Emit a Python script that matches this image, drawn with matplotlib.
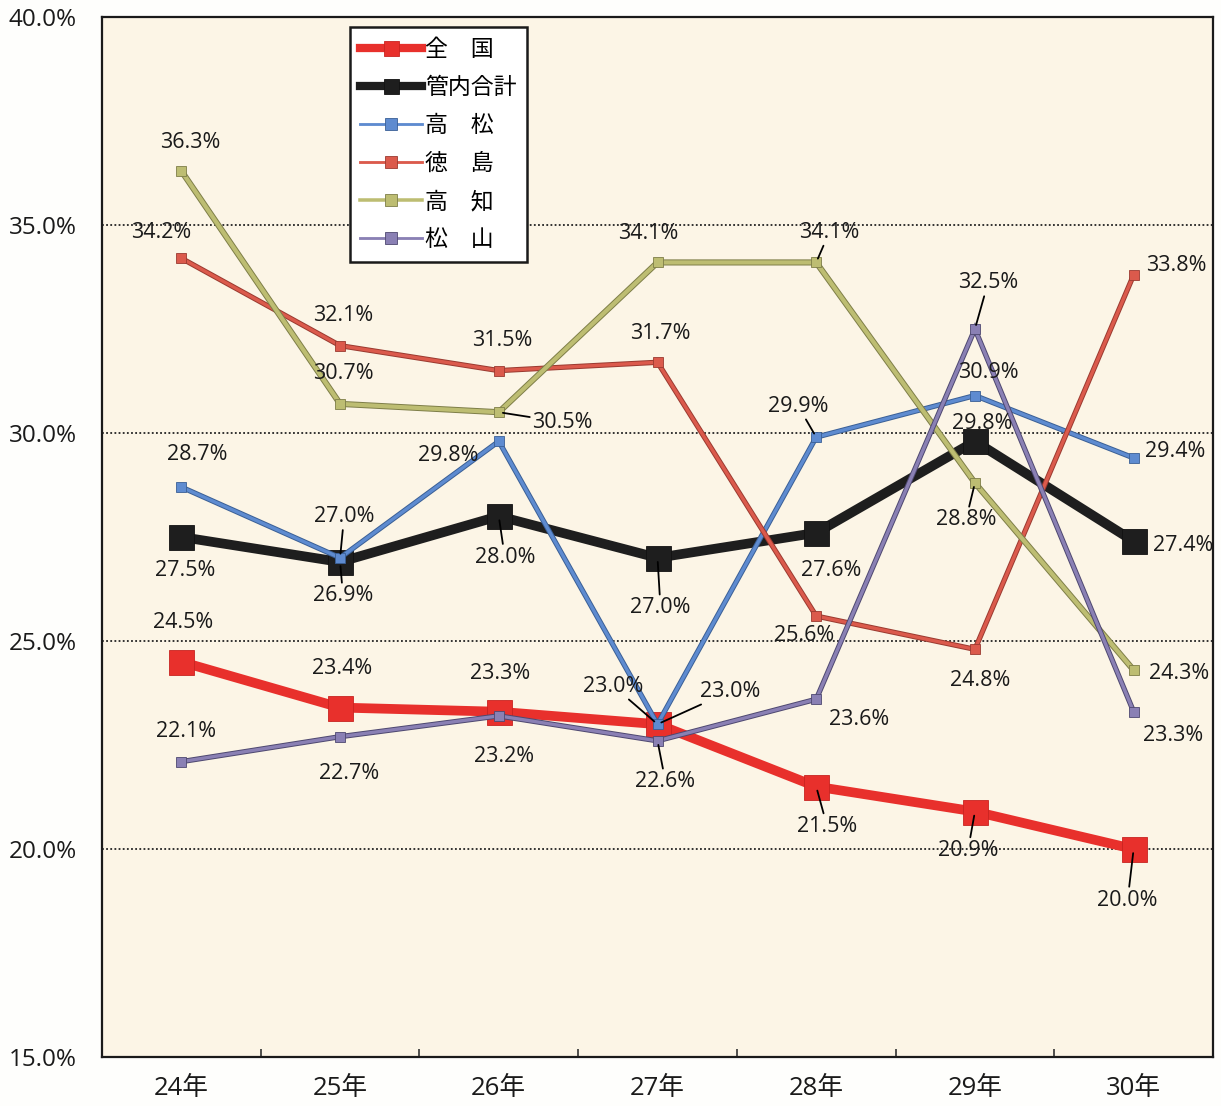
import matplotlib
matplotlib.use("Agg")
import matplotlib.pyplot as plt
import matplotlib.patheffects as pe
from matplotlib.lines import Line2D

plt.rcParams['font.family'] = ['Open Sans', 'Noto Sans CJK JP', 'DejaVu Sans']

# ---- data ----
years = ['24年', '25年', '26年', '27年', '28年', '29年', '30年']
series_names = ['全　国', '管内合計', '高　松', '徳　島', '高　知', '松　山']
zenkoku = [24.5, 23.4, 23.3, 23.0, 21.5, 20.9, 20.0]
kannai = [27.5, 26.9, 28.0, 27.0, 27.6, 29.8, 27.4]
takamatsu = [28.7, 27.0, 29.8, 23.0, 29.9, 30.9, 29.4]
tokushima = [34.2, 32.1, 31.5, 31.7, 25.6, 24.8, 33.8]
kochi = [36.3, 30.7, 30.5, 34.1, 34.1, 28.8, 24.3]
matsuyama = [22.1, 22.7, 23.2, 22.6, 23.6, 32.5, 23.3]
yticks = [15, 20, 25, 30, 35, 40]

values = [zenkoku, kannai, takamatsu, tokushima, kochi, matsuyama]

# ---- styles ----
colors = ['#E8302C', '#1E1E1E', '#5E8BD0', '#DB5A4C', '#BDBD72', '#8A80B4']
edges = ['#C82420', '#111111', '#3A5F95', '#9A3A30', '#7E7E48', '#4E4870']
lws = [7.0, 7.0, 2.4, 2.4, 3.0, 2.4]
mss = [18, 18, 7.5, 7.5, 7.5, 7.5]
stroke = [False, False, True, True, True, True]

# label offsets (pixels, relative to point) and leader flags
offsets = [
    [(2, 39), (2, 39), (1, 38), (-44, 38), (11, -40), (-7, -39), (-6, -51)],
    [(4, -33), (3, -34), (6, -41), (3, -50), (15, -38), (7, 18), (50, -4)],
    [(16, 33), (4, 41), (-51, -14), (73, 33), (-18, 31), (13, 23), (42, 6)],
    [(-20, 26), (3, 30), (3, 30), (3, 29), (-12, -19), (5, -31), (43, 9)],
    [(9, 28), (3, 30), (64, -10), (-9, 29), (13, 30), (-9, -37), (45, -3)],
    [(5, 30), (9, -37), (5, -41), (8, -41), (43, -20), (13, 46), (39, -24)],
]
leaders = [
    [0, 0, 0, 1, 1, 1, 1],
    [0, 1, 1, 1, 0, 0, 0],
    [0, 1, 0, 1, 1, 0, 0],
    [0, 0, 0, 0, 0, 0, 0],
    [0, 0, 1, 0, 1, 1, 0],
    [0, 0, 0, 1, 0, 1, 0],
]

W, H = 1221, 1106
fig = plt.figure(figsize=(W / 100, H / 100), dpi=100)
fig.patch.set_facecolor('#FEFEFC')
ax = fig.add_axes([102 / W, 1 - 1057 / H, 1111 / W, 1040 / H])
ax.set_facecolor('#FCF5E6')

x = list(range(len(years)))
handles = []
for i, (name, vals) in enumerate(zip(series_names, values)):
    kw = {}
    if stroke[i]:
        kw['path_effects'] = [pe.Stroke(linewidth=lws[i] + 1.4, foreground=edges[i]), pe.Normal()]
    ax.plot(x, vals, color=colors[i], lw=lws[i], zorder=3 + i,
            solid_joinstyle='miter', **kw)
    ax.plot(x, vals, ls='none', marker='s', ms=mss[i], markerfacecolor=colors[i],
            markeredgecolor=edges[i], markeredgewidth=0.6, zorder=3.5 + i)
    handles.append(Line2D([], [], color=colors[i], lw=lws[i] * 0.85, marker='s',
                          ms=mss[i] * 0.6 if i < 2 else 8, markerfacecolor=colors[i],
                          markeredgecolor=edges[i], markeredgewidth=0.6))

for i, vals in enumerate(values):
    for j, v in enumerate(vals):
        dx, dy = offsets[i][j]
        ap = None
        if leaders[i][j]:
            ap = dict(arrowstyle='-', color='black', lw=1.3, shrinkA=0, shrinkB=3)
        ax.annotate(f'{v:.1f}%', xy=(j, v), xytext=(dx, dy), textcoords='offset pixels',
                    ha='center', va='center', fontsize=15.5, color='#1a1a1a',
                    arrowprops=ap, zorder=20)

ax.set_xlim(-0.5, len(years) - 0.5)
ax.set_ylim(15, 40)
ax.set_yticks(yticks)
ax.set_yticklabels([f'{t:.1f}%' for t in yticks], fontsize=17.5, color='#1a1a1a')
ax.tick_params(axis='y', length=0, pad=18)
ax.set_xticks(x)
ax.set_xticklabels(years, fontsize=18.5, color='#1a1a1a')
ax.tick_params(axis='x', which='major', length=0, pad=14)
ax.set_xticks([k + 0.5 for k in x[:-1]], minor=True)
ax.tick_params(axis='x', which='minor', direction='in', length=6, width=1.2, color='#333333')

for yv in yticks[1:-1]:
    ax.axhline(yv, color='#222222', lw=1.3, ls=(0, (1, 1.3)), zorder=1)

for s in ax.spines.values():
    s.set_color('#1a1a1a')
    s.set_linewidth(1.6)

leg = ax.legend(handles, series_names, loc='upper left', bbox_to_anchor=(0.223, 0.990),
                borderaxespad=0, fancybox=False, framealpha=1, facecolor='white',
                edgecolor='#1a1a1a',
                prop={'family': ['Noto Sans CJK JP'], 'size': 16.5},
                handlelength=2.7, handletextpad=0.15, labelspacing=0.66,
                borderpad=0.45)
leg.get_frame().set_linewidth(1.8)
leg.set_zorder(30)

fig.savefig('out.png', dpi=100)
